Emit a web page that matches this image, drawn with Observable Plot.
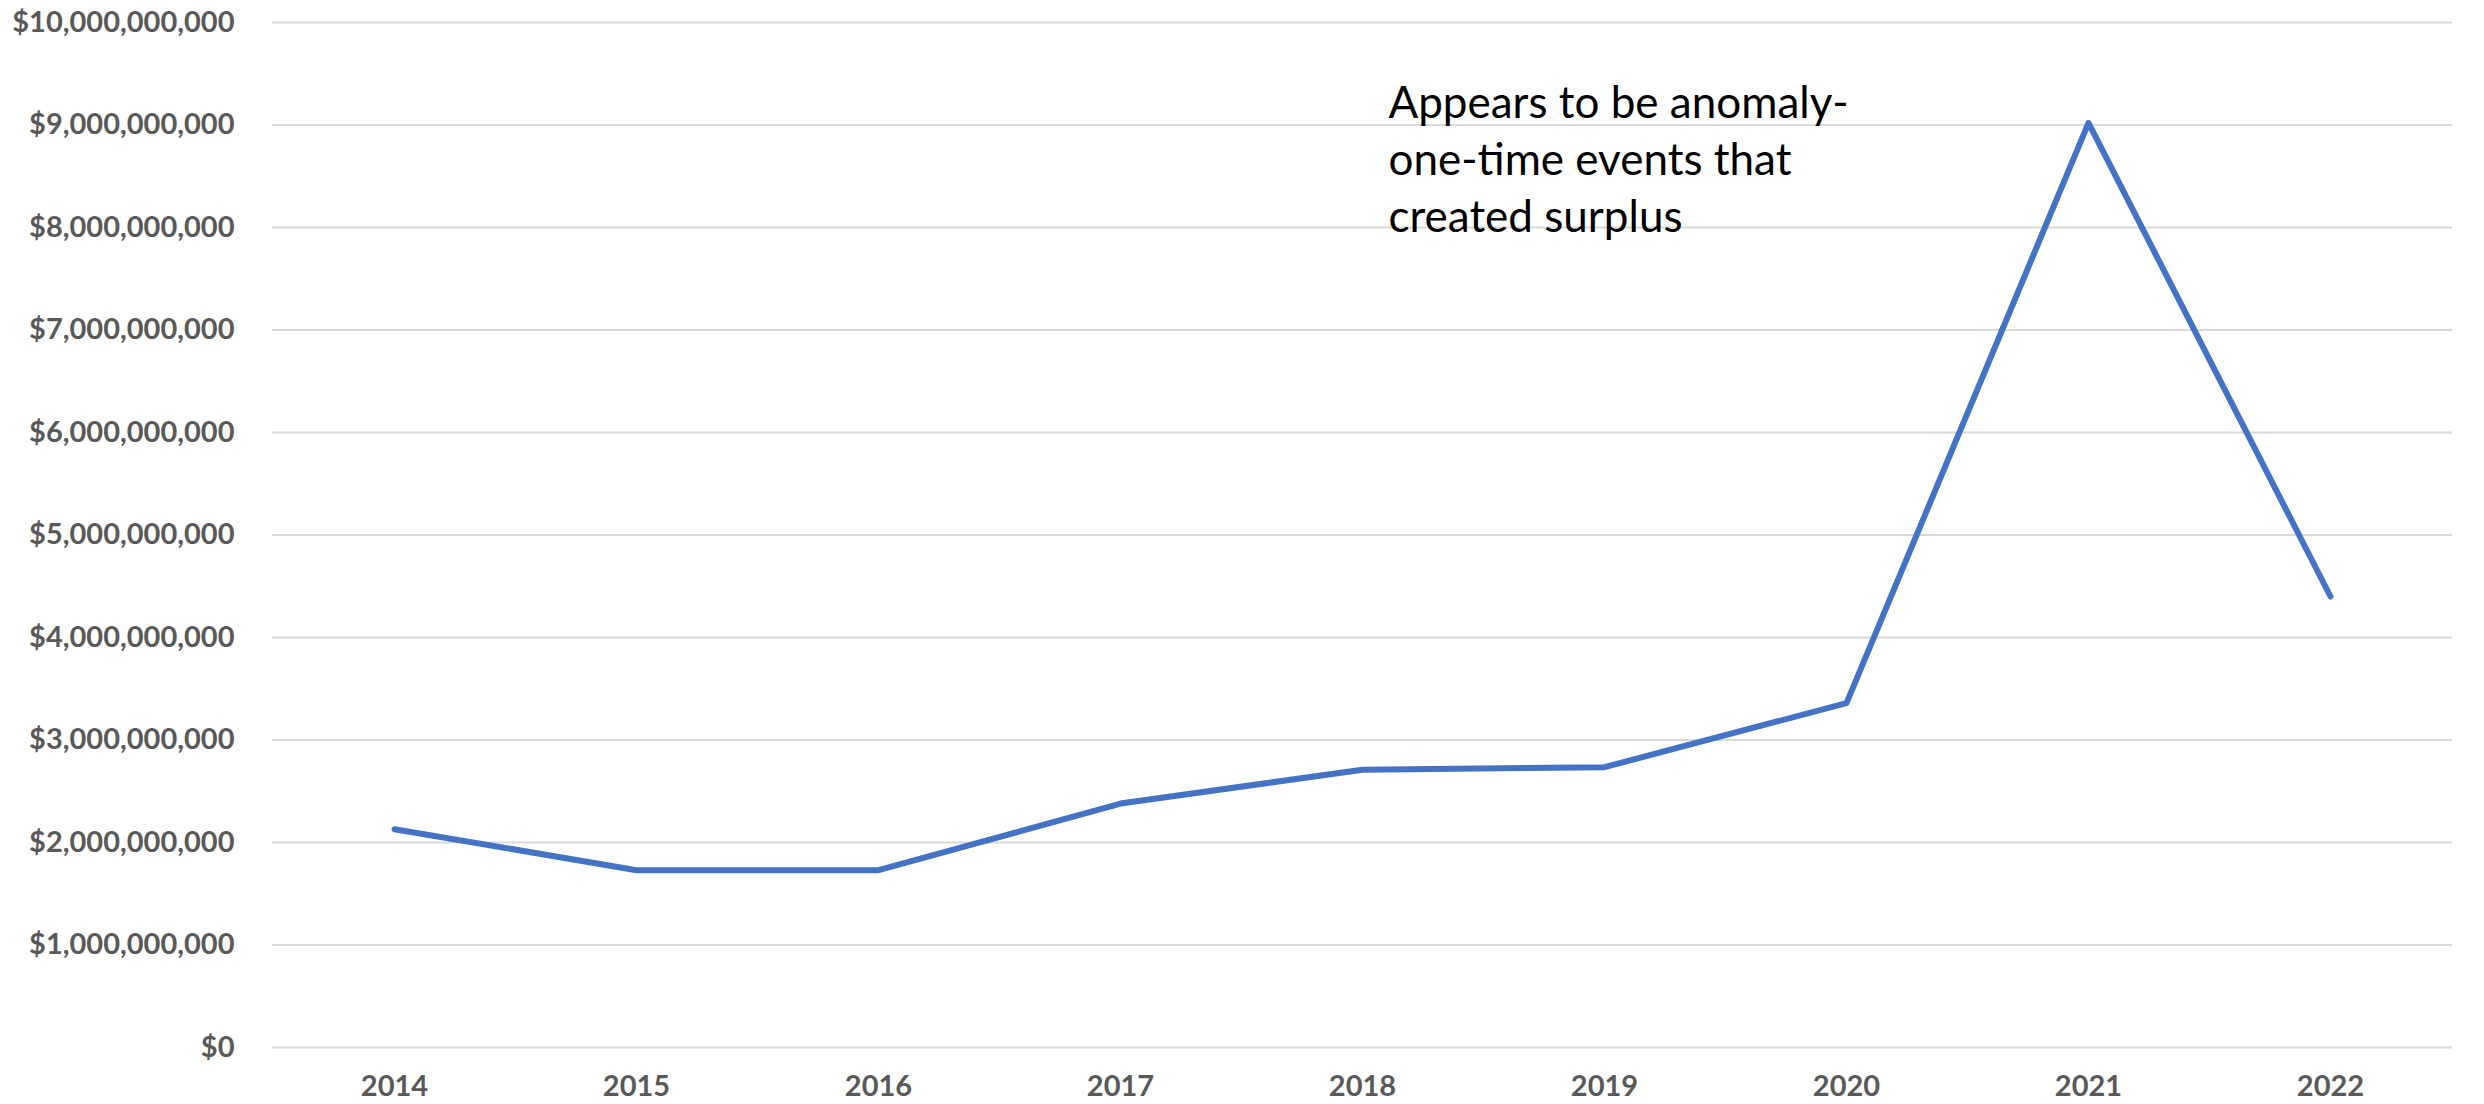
<!DOCTYPE html>
<html>
<head>
<meta charset="utf-8">
<script src="https://cdn.jsdelivr.net/npm/d3@7"></script>
<script src="https://cdn.jsdelivr.net/npm/@observablehq/plot@0.6"></script>
<style>
  html, body { margin: 0; padding: 0; background: #ffffff; }
</style>
</head>
<body>
<div id="chart"></div>
<script>
// Data
const years = ["2014", "2015", "2016", "2017", "2018", "2019", "2020", "2021", "2022"];
const values = [2.13e9, 1.73e9, 1.73e9, 2.38e9, 2.71e9, 2.735e9, 3.36e9, 9.02e9, 4.40e9];
const yTicks = [0, 1e9, 2e9, 3e9, 4e9, 5e9, 6e9, 7e9, 8e9, 9e9, 10e9];
const annotationText = "Appears to be anomaly-\none-time events that\ncreated surplus";
const annotationYear = "2018";
const annotationValue = 9.465e9;

const table = years.map((year, i) => ({ year, value: values[i] }));
const fmt = d3.format(",");

const chart = Plot.plot({
  width: 2484,
  height: 1104,
  marginLeft: 272,
  marginRight: 32,
  marginTop: 22,
  marginBottom: 57,
  style: {
    fontFamily: "Lato, 'Open Sans', sans-serif",
    fontSize: "29px",
    fontWeight: "bold",
    color: "#595959",
    background: "#ffffff"
  },
  x: { type: "point", domain: years, padding: 0.5, label: null },
  y: { domain: [0, 10e9], label: null },
  marks: [
    Plot.gridY(yTicks, { stroke: "#d9d9d9", strokeOpacity: 1, strokeWidth: 2 }),
    Plot.axisY(yTicks, {
      tickSize: 0,
      tickPadding: 38,
      label: null,
      tickFormat: d => "$" + fmt(d),
      fontSize: 29,
      fontWeight: "bold"
    }),
    Plot.axisX({
      tickSize: 0,
      tickPadding: 28,
      label: null,
      fontSize: 29,
      fontWeight: "bold"
    }),
    Plot.line(table, {
      x: "year",
      y: "value",
      stroke: "#4472C4",
      strokeWidth: 6,
      strokeLinecap: "round",
      strokeLinejoin: "round"
    }),
    Plot.text([annotationText], {
      x: () => annotationYear,
      y: () => annotationValue,
      text: d => d,
      dx: 26,
      textAnchor: "start",
      lineAnchor: "top",
      lineHeight: 1.3,
      fontSize: 44,
      fontWeight: "normal",
      fill: "#000000"
    })
  ]
});

document.getElementById("chart").appendChild(chart);
</script>
</body>
</html>
